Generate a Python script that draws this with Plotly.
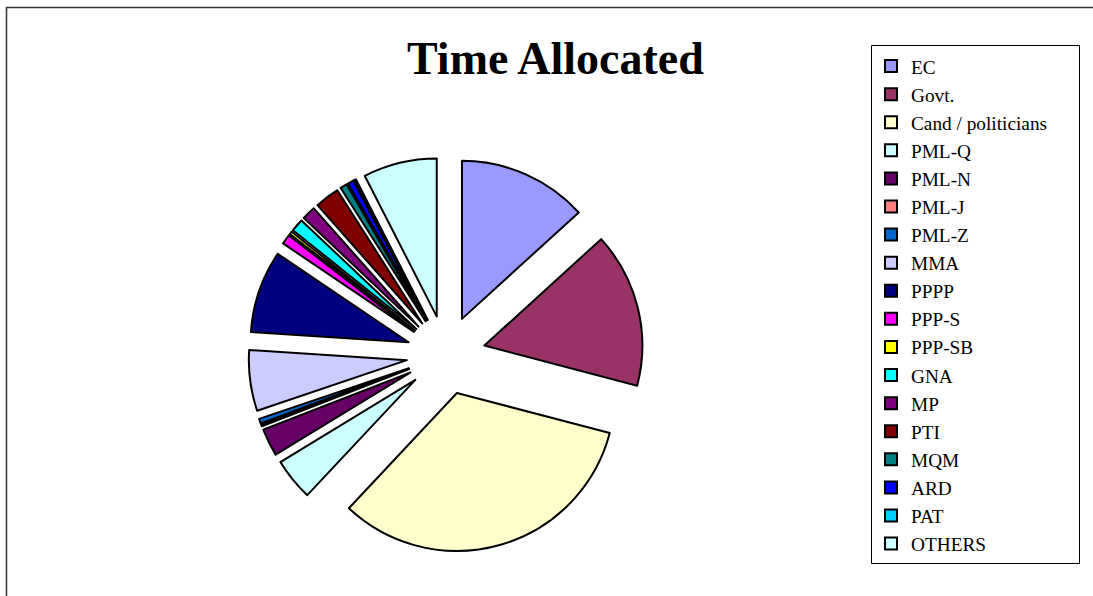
import plotly.graph_objects as go

labels = ["EC", "Govt.", "Cand / politicians", "PML-Q", "PML-N", "PML-J", "PML-Z",
          "MMA", "PPPP", "PPP-S", "PPP-SB", "GNA", "MP", "PTI", "MQM", "ARD", "PAT", "OTHERS"]
values = [13.2, 15.8, 32.8, 4.3, 2.8, 0.2, 0.5, 6.2, 8.4, 1.0, 0.3, 1.3, 1.4, 2.5, 0.7, 0.6, 0.2, 7.5]
colors = ["#9999FF", "#993366", "#FFFFCC", "#CCFFFF", "#660066", "#FF8080", "#0066CC",
          "#CCCCFF", "#000080", "#FF00FF", "#FFFF00", "#00FFFF", "#800080", "#800000",
          "#008080", "#0000FF", "#00CCFF", "#CCFFFF"]

W, H = 1093, 596
cx, cy, R = 446, 355, 197.5

fig = go.Figure(go.Pie(
    labels=labels, values=values, sort=False, direction="clockwise", rotation=0,
    marker=dict(colors=colors, line=dict(color="black", width=2)),
    pull=[0.25] * len(values), textinfo="none", hoverinfo="label+value",
    domain=dict(x=[(cx - R) / W, (cx + R) / W], y=[(H - cy - R) / H, (H - cy + R) / H]),
))

fig.update_layout(
    width=W, height=H, margin=dict(l=0, r=0, t=0, b=0),
    paper_bgcolor="white", plot_bgcolor="white",
    font=dict(family="Liberation Serif, Times New Roman, serif", color="black"),
    legend=dict(x=871 / W, y=1 - 47 / H, xanchor="left", yanchor="top",
                borderwidth=0, bgcolor="rgba(0,0,0,0)",
                font=dict(size=19.3, family="Liberation Serif, Times New Roman, serif"),
                tracegroupgap=0, itemwidth=30),
    annotations=[dict(text="<b>Time Allocated</b>", x=556 / W, y=1 - 58 / H,
                      xref="paper", yref="paper", xanchor="center", yanchor="middle",
                      showarrow=False,
                      font=dict(size=46, family="Liberation Serif, Times New Roman, serif"))],
    shapes=[
        dict(type="path", xref="paper", yref="paper",
             path=f"M {6.5 / W},0 L {6.5 / W},{1 - 7.5 / H} L 1,{1 - 7.5 / H}",
             line=dict(color="#333333", width=1.5)),
        dict(type="rect", xref="paper", yref="paper",
             x0=871.5 / W, x1=1079.5 / W, y0=1 - 563.5 / H, y1=1 - 45.5 / H,
             line=dict(color="black", width=1), layer="below"),
    ],
)

fig.write_html("out.html")
